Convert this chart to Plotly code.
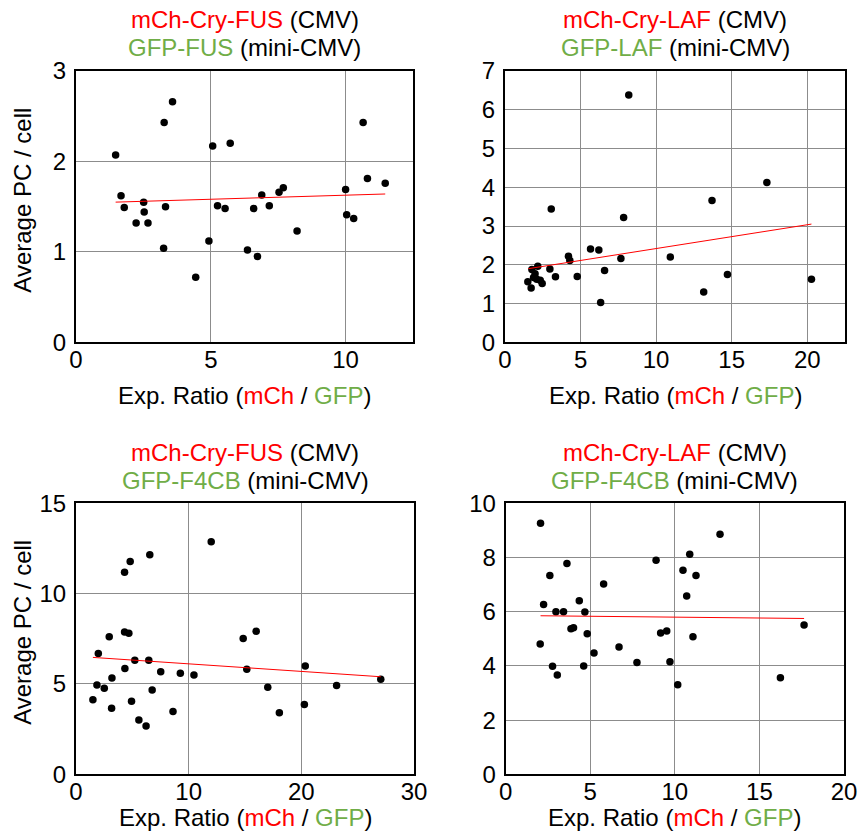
import plotly.graph_objects as go

# ---------------- data ----------------
# Panel A: mCh-Cry-FUS (CMV) / GFP-FUS (mini-CMV)
a_x = [1.47, 1.67, 1.79, 2.23, 2.51, 2.53, 2.67, 3.25, 3.27, 3.32, 3.58, 4.44, 4.93, 5.07,
       5.25, 5.53, 5.72, 6.36, 6.59, 6.73, 6.89, 7.17, 7.53, 7.69, 8.20, 10.00, 10.04, 10.30,
       10.65, 10.81, 11.47]
a_y = [2.07, 1.62, 1.49, 1.32, 1.55, 1.44, 1.32, 1.04, 2.43, 1.50, 2.66, 0.72, 1.12, 2.17,
       1.51, 1.48, 2.20, 1.02, 1.48, 0.95, 1.63, 1.51, 1.66, 1.71, 1.23, 1.69, 1.41, 1.37,
       2.43, 1.81, 1.76]
a_fit_x = [1.47, 11.47]
a_fit_y = [1.55, 1.64]

# Panel B: mCh-Cry-LAF (CMV) / GFP-LAF (mini-CMV)
b_x = [8.19, 3.06, 7.85, 13.70, 17.33, 5.66, 6.21, 4.20, 4.29, 7.67, 10.94, 6.59, 4.78,
       3.34, 2.97, 2.17, 1.78, 1.99, 1.89, 1.51, 1.73, 2.33, 2.46, 2.10, 13.15, 14.72,
       20.28, 6.33]
b_y = [6.38, 3.44, 3.22, 3.66, 4.12, 2.41, 2.38, 2.22, 2.11, 2.16, 2.20, 1.85, 1.70,
       1.69, 1.89, 1.96, 1.88, 1.77, 1.67, 1.56, 1.40, 1.60, 1.52, 1.63, 1.30, 1.75,
       1.63, 1.03]
b_fit_x = [1.55, 20.28]
b_fit_y = [1.90, 3.05]

# Panel C: mCh-Cry-FUS (CMV) / GFP-F4CB (mini-CMV)
c_x = [12.0, 6.55, 4.81, 4.31, 4.31, 4.69, 2.95, 15.99, 14.84, 1.98, 5.22, 6.46, 4.34,
       7.52, 9.26, 10.47, 15.16, 20.35, 3.19, 27.05, 1.86, 2.51, 17.02, 23.13, 6.76,
       1.50, 4.93, 3.16, 8.61, 18.05, 20.27, 5.58, 6.22]
c_y = [12.87, 12.15, 11.78, 11.18, 7.87, 7.81, 7.61, 7.92, 7.52, 6.69, 6.31, 6.31, 5.86,
       5.68, 5.59, 5.50, 5.81, 5.99, 5.33, 5.26, 4.94, 4.76, 4.82, 4.91, 4.67, 4.12,
       4.04, 3.66, 3.47, 3.40, 3.86, 3.01, 2.67]
c_fit_x = [1.50, 27.05]
c_fit_y = [6.47, 5.40]

# Panel D: mCh-Cry-LAF (CMV) / GFP-F4CB (mini-CMV)
d_x = [2.06, 12.67, 10.88, 8.89, 3.62, 10.48, 2.61, 11.25, 5.79, 10.70, 2.24, 4.35, 2.97,
       3.42, 4.68, 17.64, 3.86, 4.01, 4.82, 9.16, 9.52, 11.07, 2.04, 6.70, 5.22, 7.76,
       9.71, 2.77, 4.61, 3.05, 10.17, 16.24]
d_y = [9.26, 8.86, 8.12, 7.90, 7.78, 7.53, 7.34, 7.34, 7.02, 6.58, 6.27, 6.40, 6.00,
       6.00, 5.99, 5.51, 5.37, 5.41, 5.19, 5.21, 5.29, 5.08, 4.81, 4.70, 4.48, 4.13,
       4.15, 3.99, 4.00, 3.66, 3.30, 3.56]
d_fit_x = [2.06, 17.64]
d_fit_y = [5.85, 5.75]

titles_top = ["mCh-Cry-FUS", "mCh-Cry-LAF", "mCh-Cry-FUS", "mCh-Cry-LAF"]
titles_bottom = ["GFP-FUS", "GFP-LAF", "GFP-F4CB", "GFP-F4CB"]
x_ranges = [[0, 12.5], [0, 22.5], [0, 30], [0, 20]]
x_dticks = [5, 5, 10, 5]
y_ranges = [[0, 3], [0, 7], [0, 15], [0, 10]]
y_dticks = [1, 1, 5, 2]

# ---------------- layout geometry ----------------
W, H = 860, 837
RED = "#ff0000"
GREEN = "#70ad47"
FONT = "Liberation Sans, Arial, sans-serif"
FS = 24

def px_x(v):
    return v / W

def px_y(v):
    return 1 - v / H

panels = [
    dict(x=(76, 413), y=(71, 342.3)),
    dict(x=(505, 845), y=(71, 342.3)),
    dict(x=(76, 414), y=(503.3, 774.3)),
    dict(x=(505.7, 844), y=(503.3, 774.3)),
]

data = [(a_x, a_y, a_fit_x, a_fit_y), (b_x, b_y, b_fit_x, b_fit_y),
        (c_x, c_y, c_fit_x, c_fit_y), (d_x, d_y, d_fit_x, d_fit_y)]

fig = go.Figure()
layout = dict(
    template="none",
    width=W, height=H,
    margin=dict(l=0, r=0, t=0, b=0, pad=0, autoexpand=False),
    paper_bgcolor="white", plot_bgcolor="white",
    showlegend=False,
    font=dict(family=FONT, size=FS, color="black"),
)
annotations = []

for i, (p, (xs, ys, fx, fy)) in enumerate(zip(panels, data)):
    n = "" if i == 0 else str(i + 1)
    xa, ya = "x" + n, "y" + n
    fig.add_trace(go.Scatter(x=xs, y=ys, mode="markers", xaxis=xa, yaxis=ya,
                             marker=dict(color="black", size=7.5, line=dict(width=0)),
                             cliponaxis=False))
    fig.add_trace(go.Scatter(x=fx, y=fy, mode="lines", xaxis=xa, yaxis=ya,
                             line=dict(color=RED, width=1)))
    common = dict(showgrid=True, gridcolor="#8c8c8c", gridwidth=1,
                  showline=True, linecolor="black", linewidth=2, mirror=True,
                  zeroline=False, automargin=False,
                  tickfont=dict(family=FONT, size=FS, color="black"),
                  fixedrange=True)
    layout["xaxis" + n] = dict(common, domain=[px_x(p["x"][0]), px_x(p["x"][1])],
                               anchor=ya, range=x_ranges[i], dtick=x_dticks[i], tick0=0,
                               ticks="", ticklabelstandoff=-5)
    layout["yaxis" + n] = dict(common, domain=[px_y(p["y"][1]), px_y(p["y"][0])],
                               anchor=xa, range=y_ranges[i], dtick=y_dticks[i], tick0=0,
                               ticks="outside", ticklen=3, tickcolor="rgba(0,0,0,0)")

    cx = (p["x"][0] + p["x"][1]) / 2
    top = p["y"][0]
    bot = p["y"][1]
    annotations.append(dict(
        text=f"<span style='color:{RED}'>{titles_top[i]}</span> (CMV)",
        x=px_x(cx), y=px_y(top - 51), xref="paper", yref="paper",
        xanchor="center", yanchor="middle", showarrow=False,
        font=dict(family=FONT, size=FS, color="black")))
    annotations.append(dict(
        text=f"<span style='color:{GREEN}'>{titles_bottom[i]}</span> (mini-CMV)",
        x=px_x(cx), y=px_y(top - 23), xref="paper", yref="paper",
        xanchor="center", yanchor="middle", showarrow=False,
        font=dict(family=FONT, size=FS, color="black")))
    xt_y = 395 if i < 2 else 817
    annotations.append(dict(
        text=f"Exp. Ratio (<span style='color:{RED}'>mCh</span> / "
             f"<span style='color:{GREEN}'>GFP</span>)",
        x=px_x(cx), y=px_y(xt_y), xref="paper", yref="paper",
        xanchor="center", yanchor="middle", showarrow=False,
        font=dict(family=FONT, size=FS, color="black")))
    if i in (0, 2):
        annotations.append(dict(
            text="Average PC / cell", textangle=-90,
            x=px_x(23), y=px_y((top + bot) / 2 - 6), xref="paper", yref="paper",
            xanchor="center", yanchor="middle", showarrow=False,
            font=dict(family=FONT, size=FS, color="black")))

layout["annotations"] = annotations
fig.update_layout(**layout)
fig.write_html(
    "out.html",
    config={"displayModeBar": False},
    post_script="document.body.style.margin='0';document.body.style.overflow='hidden';",
)
